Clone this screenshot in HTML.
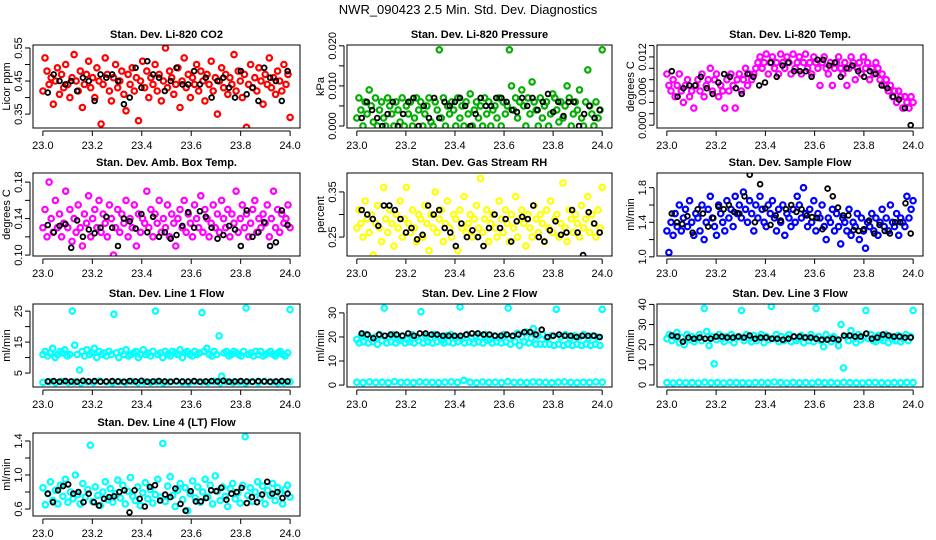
<!DOCTYPE html>
<html><head><meta charset="utf-8"><style>
html,body{margin:0;padding:0;background:#fff;}
svg{display:block;font-family:"Liberation Sans",Arial,sans-serif;}
</style></head><body>
<svg id="chart" width="936" height="540" viewBox="0 0 936 540">
<text x="468" y="14" text-anchor="middle" font-size="13">NWR_090423  2.5 Min. Std. Dev. Diagnostics</text>
</svg>
<script>
const xTicks = [23.0, 23.2, 23.4, 23.6, 23.8, 24.0];
const xTickLabels = ["23.0", "23.2", "23.4", "23.6", "23.8", "24.0"];
const timeSpan = [23.0, 24.0];

const co2Red = [0.42,0.52,0.48,0.44,0.46,0.38,0.45,0.49,0.41,0.47,0.43,0.50,0.44,0.40,0.46,0.53,0.45,0.42,0.48,0.37,0.44,0.47,0.51,0.43,0.46,0.40,0.49,0.45,0.32,0.44,0.52,0.47,0.42,0.39,0.46,0.50,0.43,0.45,0.48,0.41,0.36,0.47,0.44,0.49,0.42,0.46,0.33,0.45,0.51,0.43,0.48,0.40,0.46,0.44,0.50,0.42,0.47,0.39,0.45,0.55,0.43,0.48,0.46,0.41,0.44,0.49,0.37,0.45,0.52,0.43,0.47,0.40,0.46,0.44,0.50,0.42,0.48,0.45,0.39,0.47,0.44,0.51,0.42,0.46,0.35,0.45,0.49,0.43,0.47,0.41,0.46,0.44,0.53,0.42,0.48,0.45,0.40,0.47,0.31,0.44,0.50,0.43,0.46,0.42,0.49,0.45,0.38,0.47,0.44,0.52,0.43,0.46,0.41,0.48,0.45,0.42,0.50,0.44,0.47,0.34];
const co2Black = [0.415,0.47,0.45,0.44,0.45,0.42,0.46,0.45,0.39,0.47,0.46,0.47,0.45,0.38,0.40,0.49,0.43,0.51,0.47,0.46,0.42,0.45,0.49,0.44,0.44,0.48,0.44,0.46,0.40,0.45,0.46,0.43,0.40,0.48,0.41,0.43,0.39,0.49,0.46,0.45,0.39,0.48];

const presGreen = [0.002,0.007,0.004,0,0.006,0.003,0.009,0.005,0.001,0.007,0,0.004,0.006,0.002,0,0.007,0.005,0.003,0,0.006,0.004,0.001,0.007,0,0.005,0.003,0.006,0,0.002,0.007,0.004,0.006,0,0.003,0.005,0.007,0.001,0,0.006,0.004,0.019,0.002,0.007,0,0.005,0.003,0.006,0.004,0,0.007,0.002,0.005,0,0.006,0.003,0.008,0,0.004,0.006,0.002,0.005,0,0.007,0.003,0.006,0,0.004,0.005,0.002,0.007,0,0.006,0.003,0.005,0.019,0.010,0.004,0.007,0.002,0.006,0.009,0.005,0,0.007,0.003,0.011,0.006,0.004,0,0.007,0.002,0.005,0.006,0,0.003,0.008,0.007,0.004,0.001,0.006,0.002,0.005,0.010,0.007,0,0.003,0.006,0.004,0.009,0.002,0,0.006,0.014,0.005,0.003,0,0.006,0.002,0.004,0.019];
const presBlack = [0.002,0.006,0.004,0.002,0,0.003,0.006,0,0.003,0.006,0.007,0,0.005,0.002,0.007,0.002,0.006,0.005,0.006,0.007,0.005,0,0.003,0.007,0.005,0.005,0.007,0.007,0.006,0.004,0.0035,0.007,0.005,0.007,0.004,0.006,0.008,0.0035,0.006,0.0025,0.006,0.006,0,0.003,0.005,0.002,0.004];

const tempMag = [0.009,0.007,0.006,0.008,0.005,0.007,0.009,0.006,0.004,0.007,0.008,0.005,0.006,0.003,0.007,0.008,0.006,0.009,0.005,0.007,0.008,0.010,0.006,0.008,0.009,0.005,0.007,0.006,0.003,0.008,0.006,0.009,0.007,0.003,0.008,0.009,0.006,0.008,0.010,0.007,0.009,0.008,0.009,0.010,0.011,0.012,0.010,0.011,0.0125,0.009,0.011,0.012,0.010,0.011,0.009,0.0125,0.011,0.010,0.012,0.011,0.009,0.0125,0.010,0.011,0.012,0.009,0.011,0.0125,0.010,0.011,0.009,0.012,0.011,0.010,0.007,0.011,0.012,0.010,0.009,0.011,0.007,0.010,0.011,0.012,0.010,0.009,0.011,0.007,0.010,0.012,0.011,0.008,0.010,0.011,0.009,0.012,0.010,0.011,0.008,0.010,0.009,0.011,0.010,0.008,0.009,0.007,0.008,0.006,0.007,0.005,0.006,0.004,0.006,0.005,0.003,0.005,0.004,0.003,0.005,0.004];
const tempBlack = [0.0095,0.005,0.0065,0.007,0.007,0.0085,0.0065,0.0055,0.0075,0.009,0.0085,0.0065,0.0055,0.009,0.0085,0.007,0.0075,0.011,0.0085,0.0105,0.011,0.0095,0.0095,0.0095,0.0085,0.0115,0.0115,0.0105,0.011,0.0085,0.010,0.0105,0.0095,0.0085,0.0095,0.009,0.007,0.0065,0.005,0.0045,0.003,0.0];

const ambMag = [0.13,0.15,0.12,0.18,0.14,0.125,0.16,0.13,0.145,0.12,0.135,0.17,0.13,0.15,0.115,0.14,0.125,0.155,0.13,0.11,0.145,0.135,0.165,0.12,0.14,0.15,0.13,0.16,0.125,0.145,0.135,0.12,0.155,0.14,0.10,0.13,0.15,0.125,0.145,0.135,0.16,0.12,0.14,0.13,0.155,0.11,0.145,0.125,0.14,0.135,0.17,0.13,0.15,0.12,0.145,0.135,0.16,0.125,0.14,0.13,0.155,0.12,0.145,0.135,0.11,0.14,0.15,0.13,0.16,0.125,0.145,0.135,0.12,0.155,0.14,0.13,0.165,0.125,0.15,0.14,0.12,0.135,0.155,0.13,0.145,0.125,0.16,0.14,0.13,0.15,0.12,0.145,0.135,0.17,0.125,0.14,0.155,0.13,0.145,0.12,0.135,0.15,0.16,0.125,0.14,0.13,0.145,0.135,0.155,0.12,0.14,0.17,0.13,0.15,0.125,0.145,0.135,0.14,0.155,0.13];
const ambBlack = [0.133,0.125,0.132,0.134,0.108,0.138,0.12,0.128,0.124,0.13,0.142,0.13,0.11,0.14,0.137,0.129,0.145,0.125,0.142,0.12,0.125,0.118,0.122,0.132,0.147,0.13,0.148,0.142,0.13,0.118,0.122,0.132,0.128,0.11,0.149,0.12,0.125,0.136,0.11,0.114,0.149,0.133];

const rhYellow = [0.27,0.31,0.28,0.25,0.33,0.29,0.26,0.30,0.21,0.28,0.32,0.27,0.24,0.36,0.29,0.26,0.31,0.28,0.23,0.30,0.27,0.33,0.25,0.29,0.36,0.28,0.26,0.31,0.27,0.24,0.30,0.29,0.25,0.32,0.28,0.22,0.30,0.27,0.35,0.26,0.29,0.31,0.24,0.28,0.33,0.27,0.25,0.30,0.29,0.22,0.31,0.27,0.34,0.26,0.28,0.30,0.25,0.29,0.32,0.27,0.38,0.26,0.29,0.31,0.24,0.28,0.30,0.27,0.25,0.33,0.29,0.26,0.31,0.28,0.24,0.30,0.27,0.34,0.25,0.29,0.31,0.28,0.23,0.30,0.27,0.25,0.32,0.29,0.26,0.30,0.28,0.24,0.31,0.27,0.33,0.26,0.29,0.30,0.25,0.28,0.37,0.27,0.24,0.31,0.29,0.26,0.30,0.28,0.25,0.32,0.27,0.29,0.34,0.26,0.30,0.28,0.25,0.31,0.27,0.36];
const rhBlack = [0.31,0.30,0.29,0.275,0.32,0.32,0.31,0.29,0.26,0.27,0.245,0.255,0.32,0.30,0.31,0.27,0.26,0.23,0.28,0.25,0.265,0.25,0.23,0.27,0.30,0.27,0.29,0.24,0.285,0.295,0.29,0.32,0.25,0.24,0.265,0.285,0.255,0.26,0.31,0.26,0.21,0.305,0.28,0.26];

const flowBlue = [1.30,1.05,1.40,1.25,1.50,1.35,1.60,1.30,1.45,1.55,1.35,1.65,1.40,1.25,1.50,1.45,1.30,1.60,1.20,1.40,1.55,1.70,1.45,1.35,1.25,1.60,1.50,1.40,1.30,1.65,1.45,1.55,1.35,1.70,1.50,1.60,1.45,1.75,1.55,1.40,1.65,1.50,1.30,1.60,1.45,1.70,1.55,1.40,1.35,1.60,1.50,1.65,1.45,1.30,1.55,1.40,1.60,1.25,1.50,1.45,1.35,1.55,1.40,1.70,1.60,1.45,1.80,1.50,1.35,1.55,1.40,1.65,1.30,1.50,1.45,1.60,1.35,1.20,1.45,1.40,1.55,1.30,1.50,1.35,1.15,1.45,1.40,1.30,1.55,1.25,1.40,1.35,1.50,1.20,1.45,1.30,1.10,1.40,1.35,1.50,1.30,1.45,1.25,1.40,1.55,1.35,1.45,1.30,1.60,1.40,1.35,1.50,1.25,1.45,1.40,1.35,1.70,1.45,1.55,1.65];
const flowBlack = [1.50,1.40,1.38,1.47,1.28,1.55,1.50,1.35,1.45,1.58,1.55,1.60,1.52,1.50,1.70,1.95,1.40,1.84,1.56,1.37,1.48,1.42,1.55,1.60,1.52,1.55,1.48,1.46,1.45,1.32,1.79,1.70,1.57,1.48,1.48,1.31,1.30,1.32,1.42,1.27,1.37,1.30,1.27,1.40,1.40,1.62,1.27];

const line1Cyan = [11,12,10.5,11.5,13,10,11,12,11.5,12.5,10.5,11,25,14,11,6,12,10.5,12.5,11,11.5,13,10,12,11,11.5,10.5,12,11,24,11.5,10,12,11,12.5,10.5,11,11.5,12,10,11,12.5,11,11.5,10.5,12,25,11,11.5,10,12,11,10.5,12,11.5,11,12.5,10,11.5,12,11,10.5,12,11,11.5,24.5,12,13,11,10.5,12,11,17,4,11.5,12,10.5,11,12,11.5,11,10.5,12,26,11,11.5,10.5,12,11,12,10.5,11,11.5,12,11,10.5,11.5,12,11,10.5,11.5,25.5];
const line1CyanLow = [2,2.2,1.9,2.3,2,2.1,1.8,2.2,2,2.4,2.1,1.9,2.2,2,2.3,1.9,2.1,2,2.2,1.8,2.1,2.3,2,1.9,2.2,2.1,2,2.3,1.9,2.2,2,2.1,1.8,2.2,2,2.3,2.1,1.9,2,2.2];
const line1Black = [2.3,2.4,2.2,2.4,2.3,2.2,2.5,2.3,2.4,2.2,2.3,2.4,2.3,2.2,2.4,2.3,2.5,2.2,2.3,2.4,2.3,2.2,2.4,2.3,2.3,2.4,2.2,2.3,2.4,2.3,2.5,2.2,2.3,2.4,2.3,2.2,2.4,2.3,2.2,2.3,2.4,2.3];

const line2Cyan = [19,17.5,20.5,18,21,17.5,19.5,18,20,17,21,18.5,32,17.5,20,18,21,17.5,19,18.5,20.5,17.5,19,18,21,17.5,20,18.5,30.5,17.5,20.5,18,19.5,17.5,21,18,20,18.5,17.5,20.5,18,21,17.5,19.5,18,32.5,20,17.5,21,18,19.5,17.5,20.5,18,20,17.5,21,18.5,19,17.5,20.5,18,19.5,17.5,21,18,32,17,20,18,21.5,16.5,20,18,22,17.5,19.5,23.5,17,20.5,17,21,17,19.5,17,20.5,16.5,31.5,17,20,16.5,21,17,19.5,16.5,20.5,17,20,16.5,21,17,19.5,16.5,20.5,17,20,16.5,31.5];
const line2CyanLow = [1.2,1.0,1.3,1.1,1.2,1.0,1.4,1.1,1.2,1.0,1.3,1.2,1.1,1.0,1.2,1.3,1.1,2.0,1.2,1.0,1.3,1.1,1.2,1.0,1.4,1.1,1.2,1.0,1.3,1.2,1.1,1.0,1.2,1.3,1.1,1.0,1.2,1.1,1.3,1.2];
const line2Black = [21.5,21,19.5,21,20.5,21,21,20.5,21.5,20.5,21.5,21.5,21,21,20.5,20.5,20.5,20.5,21,21.5,21.5,21,21,20.5,20.5,21,20.5,21,22,22,21,23,20,20.5,21,20.5,20.5,20,20.5,20.5,20.5,20];

const line3Cyan = [23,25,22,24,26,21,23.5,20,25,22.5,24,21.5,23,25,22,38,26.5,19.5,24,10.5,22.5,25,23,21.5,24,22.5,25,21,23.5,24,37,22,25,23,21.5,24.5,22,23.5,25,21,24,22.5,39,23,25,21.5,24,22,23.5,25,21.5,24,22,23,24.5,21,23.5,22,25,21.5,38,24,22,19,25,23,21.5,24,22.5,19.5,30,8.5,24,22,27,23,21,25,22.5,24,37,23,25,22,21.5,24.5,23,22,25,21,24,23,22,24.5,21.5,23,25,22,24,37];
const line3CyanLow = [1.2,1.0,1.3,1.1,1.2,1.0,1.4,1.1,1.2,1.0,1.3,1.2,1.1,1.0,1.2,1.3,1.1,1.5,1.2,1.0,1.3,1.1,1.2,1.0,1.4,1.1,1.2,1.0,1.3,1.2,1.1,1.0,1.2,1.3,1.1,1.0,1.2,1.1,1.3,1.2];
const line3Black = [24.5,24,21.5,23.5,23,23.5,23,23,24,24,23.5,23.5,24,23.5,24.5,23,23.5,23.5,23,23,22.5,23,24,24,23.5,23.5,23,22.5,22.5,23,22.5,24.5,24.5,24,24,25.5,23,23.5,25,24.5,24,24,23.5,23.5];

const line4Cyan = [0.85,0.65,0.78,0.92,0.70,0.82,0.66,0.88,0.75,0.95,0.68,0.80,0.72,1.00,0.77,0.66,0.90,0.74,0.83,1.35,0.69,0.86,0.76,0.64,0.80,0.92,0.71,0.84,0.68,0.78,0.94,0.73,0.88,0.66,0.81,0.97,0.75,0.70,0.86,0.64,0.79,0.91,0.72,0.83,0.67,0.77,0.95,0.74,1.37,0.69,0.87,0.98,0.76,0.63,0.82,0.90,0.71,0.85,0.58,0.78,0.93,0.73,0.86,0.68,0.80,0.95,0.74,0.88,0.66,0.99,0.81,0.70,0.86,0.75,0.63,0.84,0.90,0.72,0.79,0.67,0.88,1.45,0.76,0.85,0.69,0.80,0.92,0.73,0.87,0.66,0.82,0.76,0.90,0.70,0.85,0.78,0.66,0.83,0.88,0.74];
const line4Black = [0.78,0.68,0.82,0.87,0.89,0.78,0.80,0.68,0.78,0.68,0.64,0.72,0.74,0.75,0.80,0.82,0.56,0.82,0.72,0.63,0.86,0.88,0.70,0.77,0.74,0.84,0.66,0.58,0.81,0.69,0.69,0.73,0.82,0.81,0.85,0.71,0.78,0.80,0.85,0.67,0.74,0.68,0.77,0.92,0.78,0.80,0.73,0.78];

const panels = [
 {name:"co2", title:"Stan. Dev. Li-820 CO2", ylab:"Licor ppm", col:0,row:0, ylim:[0.308,0.559], yt:[0.35,0.40,0.45,0.50,0.55], yl:["0.35","","0.45","","0.55"], series:[[co2Red,"#ff0000"],[co2Black,"#000"]]},
 {name:"pressure", title:"Stan. Dev. Li-820 Pressure", ylab:"kPa", col:1,row:0, ylim:[-0.0005,0.0202], yt:[0,0.005,0.010,0.015,0.020], yl:["0.000","","0.010","","0.020"], series:[[presGreen,"#00b000"],[presBlack,"#000"]]},
 {name:"temp", title:"Stan. Dev. Li-820 Temp.", ylab:"degrees C", col:2,row:0, ylim:[-0.0005,0.0141], yt:[0,0.002,0.004,0.006,0.008,0.010,0.012,0.014], yl:["0.000","","","0.006","","","0.012",""], series:[[tempMag,"#ff00ff"],[tempBlack,"#000"]]},
 {name:"ambbox", title:"Stan. Dev. Amb. Box Temp.", ylab:"degrees C", col:0,row:1, ylim:[0.099,0.19], yt:[0.10,0.12,0.14,0.16,0.18], yl:["0.10","","0.14","","0.18"], series:[[ambMag,"#ff00ff"],[ambBlack,"#000"]]},
 {name:"rh", title:"Stan. Dev. Gas Stream RH", ylab:"percent", col:1,row:1, ylim:[0.208,0.392], yt:[0.25,0.30,0.35], yl:["0.25","","0.35"], series:[[rhYellow,"#ffff00"],[rhBlack,"#000"]]},
 {name:"sampleflow", title:"Stan. Dev. Sample Flow", ylab:"ml/min", col:2,row:1, ylim:[1.01,1.97], yt:[1.0,1.2,1.4,1.6,1.8], yl:["1.0","","1.4","","1.8"], series:[[flowBlue,"#0000ff"],[flowBlack,"#000"]]},
 {name:"line1", title:"Stan. Dev. Line 1 Flow", ylab:"ml/min", col:0,row:2, ylim:[0.5,27.3], yt:[5,10,15,20,25], yl:["5","","15","","25"], series:[[line1CyanLow,"#00ffff"],[line1Cyan,"#00ffff"],[line1Black,"#000"]]},
 {name:"line2", title:"Stan. Dev. Line 2 Flow", ylab:"ml/min", col:1,row:2, ylim:[-0.8,33.7], yt:[0,10,20,30], yl:["0","10","20","30"], series:[[line2CyanLow,"#00ffff"],[line2Cyan,"#00ffff"],[line2Black,"#000"]]},
 {name:"line3", title:"Stan. Dev. Line 3 Flow", ylab:"ml/min", col:2,row:2, ylim:[-1.0,40.2], yt:[0,10,20,30,40], yl:["0","10","20","30","40"], series:[[line3CyanLow,"#00ffff"],[line3Cyan,"#00ffff"],[line3Black,"#000"]]},
 {name:"line4", title:"Stan. Dev. Line 4 (LT) Flow", ylab:"ml/min", col:0,row:3, ylim:[0.518,1.494], yt:[0.6,0.8,1.0,1.2,1.4], yl:["0.6","","1.0","","1.4"], series:[[line4Cyan,"#00ffff"],[line4Black,"#000"]]}
];
const colBox = [[33,300],[347,612],[657,923]];
const rowBox = [[45,128],[173,256],[304,387],[433,516]];
const NS = "http://www.w3.org/2000/svg";
const svg = document.getElementById("chart");
function mk(tag, attrs, parent){ const e=document.createElementNS(NS,tag); for(const k in attrs) e.setAttribute(k,attrs[k]); (parent||svg).appendChild(e); return e; }

panels.forEach(p=>{
  const [L,R]=colBox[p.col], [T,B]=rowBox[p.row];
  const span=timeSpan[1]-timeSpan[0], pad=span*0.04;
  const x0=timeSpan[0]-pad, x1=timeSpan[1]+pad;
  const sx=v=>L+(v-x0)/(x1-x0)*(R-L);
  const sy=v=>B-(v-p.ylim[0])/(p.ylim[1]-p.ylim[0])*(B-T);
  const g=mk("g",{});
  
  
  const t=mk("text",{x:(L+R)/2,y:T-7,"text-anchor":"middle","font-size":"11","font-weight":"bold"},g);
  t.textContent=p.title;
  
  
  const clip="clip-"+p.name;
  const cp=mk("clipPath",{id:clip},g); mk("rect",{x:L,y:T,width:R-L,height:B-T},cp);
  const pg=mk("g",{"clip-path":"url(#"+clip+")"},g);
  p.series.forEach((s,si)=>{
    const vals=s[0], col=s[1], n=vals.length;
    const isBlack = col==="#000";
    const ts = isBlack ? timeSpan[0]+0.02 : timeSpan[0];
    const te = isBlack ? timeSpan[1]-0.01 : timeSpan[1];
    const sg=mk("g",{fill:"none",stroke:col,"stroke-width":isBlack?"1.8":"2.2"},pg);
    
    
    vals.forEach((v,i)=>{
      const tx=ts+(te-ts)*i/(n-1);
      const c=mk("circle",{cx:sx(tx).toFixed(1),cy:sy(v).toFixed(1),r:isBlack?"2.4":"2.7"},sg);
      
      
    });
  });
  const box=mk("rect",{x:L,y:T,width:R-L,height:B-T,fill:"none",stroke:"#000","stroke-width":"1"},g);
  
  
  const xa=mk("g",{stroke:"#000","stroke-width":"1"},g);
  
  
  mk("line",{x1:sx(xTicks[0]),x2:sx(xTicks[xTicks.length-1]),y1:B+3,y2:B+3},xa);
  xTicks.forEach((v,i)=>{
    mk("line",{x1:sx(v),x2:sx(v),y1:B+3,y2:B+8},xa);
    const tl=mk("text",{x:sx(v),y:B+21,"text-anchor":"middle","font-size":"11",stroke:"none",fill:"#000"},xa);
    tl.textContent=xTickLabels[i];
  });
  const ya=mk("g",{stroke:"#000","stroke-width":"1"},g);
  
  
  mk("line",{x1:L-3,x2:L-3,y1:sy(p.yt[0]),y2:sy(p.yt[p.yt.length-1])},ya);
  p.yt.forEach((v,i)=>{
    mk("line",{x1:L-3,x2:L-8,y1:sy(v),y2:sy(v)},ya);
    if(p.yl[i]){
      const yy=sy(v), xx=L-11;
      const tl=mk("text",{x:xx,y:yy,"text-anchor":"middle","font-size":"11",stroke:"none",fill:"#000",transform:`rotate(-90 ${xx} ${yy})`},ya);
      tl.textContent=p.yl[i];
    }
  });
  const yc=(T+B)/2, xl=L-23;
  const yl=mk("text",{x:xl,y:yc,"text-anchor":"middle","font-size":"11",transform:`rotate(-90 ${xl} ${yc})`},g);
  yl.textContent=p.ylab;
  
  
});
</script>
</body></html>
